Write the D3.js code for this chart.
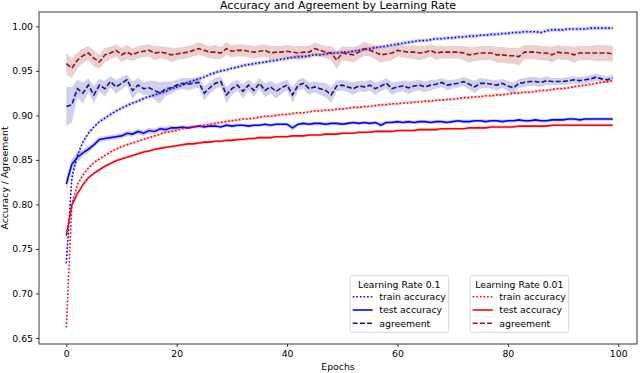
<!DOCTYPE html>
<html lang="en">
<head>
<meta charset="utf-8">
<script src="https://d3js.org/d3.v7.min.js"></script>
<style>
  body { margin: 0; background: #fff; }
  text { font-family: "DejaVu Sans", sans-serif; fill: #000; }
</style>
</head>
<body>
<script>
// epochs on the x axis
const epochs = d3.range(0, 100);

// Learning rate 0.1
const trainAcc01 = [0.734,0.830,0.855,0.870,0.880,0.887,0.893,0.897,0.901,0.905,
  0.908,0.911,0.914,0.916,0.919,0.921,0.923,0.925,0.927,0.930,
  0.932,0.934,0.937,0.939,0.941,0.943,0.946,0.948,0.950,0.951,
  0.953,0.954,0.956,0.957,0.958,0.959,0.960,0.961,0.962,0.963,
  0.964,0.965,0.966,0.966,0.967,0.968,0.968,0.969,0.970,0.970,
  0.971,0.971,0.972,0.973,0.974,0.975,0.976,0.977,0.978,0.979,
  0.980,0.981,0.982,0.983,0.984,0.984,0.985,0.986,0.986,0.987,
  0.987,0.988,0.988,0.989,0.989,0.990,0.990,0.991,0.991,0.992,
  0.992,0.993,0.993,0.994,0.994,0.994,0.993,0.995,0.996,0.996,
  0.996,0.997,0.997,0.997,0.997,0.998,0.998,0.998,0.998,0.998];
const testAcc01 = [0.823,0.845,0.853,0.858,0.862,0.867,0.873,0.874,0.875,0.876,
  0.877,0.880,0.879,0.882,0.880,0.883,0.882,0.885,0.884,0.886,
  0.886,0.887,0.886,0.887,0.888,0.887,0.888,0.888,0.887,0.889,
  0.888,0.889,0.889,0.888,0.889,0.889,0.890,0.889,0.890,0.890,
  0.890,0.886,0.890,0.891,0.890,0.891,0.891,0.890,0.891,0.891,
  0.890,0.891,0.892,0.891,0.892,0.891,0.892,0.889,0.892,0.892,
  0.893,0.892,0.893,0.892,0.893,0.893,0.892,0.893,0.893,0.892,
  0.893,0.894,0.893,0.893,0.894,0.894,0.893,0.894,0.894,0.893,
  0.894,0.894,0.895,0.894,0.894,0.895,0.894,0.894,0.895,0.895,
  0.895,0.896,0.896,0.895,0.896,0.896,0.896,0.896,0.896,0.896];
const agree01 = [0.910,0.912,0.930,0.925,0.934,0.923,0.934,0.930,0.938,0.932,
  0.936,0.940,0.928,0.934,0.930,0.931,0.928,0.925,0.930,0.931,
  0.934,0.936,0.935,0.936,0.937,0.925,0.931,0.936,0.938,0.923,
  0.930,0.934,0.927,0.934,0.928,0.936,0.928,0.932,0.927,0.931,
  0.934,0.923,0.934,0.936,0.930,0.932,0.930,0.928,0.923,0.933,
  0.934,0.932,0.930,0.933,0.932,0.934,0.930,0.933,0.936,0.930,
  0.932,0.933,0.931,0.933,0.934,0.932,0.934,0.935,0.937,0.934,
  0.935,0.936,0.938,0.935,0.932,0.936,0.936,0.935,0.934,0.936,
  0.933,0.931,0.936,0.937,0.938,0.938,0.937,0.939,0.938,0.938,
  0.938,0.939,0.940,0.939,0.940,0.941,0.943,0.941,0.940,0.942];

// Learning rate 0.01
const trainAcc001 = [0.662,0.800,0.822,0.833,0.841,0.847,0.851,0.855,0.859,0.862,
  0.865,0.867,0.869,0.871,0.873,0.875,0.877,0.879,0.881,0.882,
  0.883,0.885,0.886,0.887,0.888,0.889,0.890,0.891,0.892,0.893,
  0.894,0.895,0.896,0.896,0.897,0.898,0.899,0.899,0.900,0.901,
  0.901,0.902,0.903,0.903,0.904,0.905,0.905,0.906,0.906,0.907,
  0.907,0.908,0.909,0.909,0.910,0.910,0.911,0.912,0.912,0.913,
  0.913,0.914,0.914,0.915,0.915,0.916,0.916,0.917,0.917,0.918,
  0.918,0.919,0.920,0.920,0.921,0.921,0.922,0.922,0.923,0.923,
  0.924,0.925,0.925,0.926,0.926,0.927,0.928,0.928,0.929,0.930,
  0.930,0.931,0.932,0.933,0.934,0.935,0.936,0.937,0.938,0.939];
const testAcc001 = [0.765,0.799,0.812,0.822,0.830,0.835,0.839,0.843,0.846,0.849,
  0.851,0.853,0.855,0.857,0.859,0.860,0.862,0.863,0.864,0.865,
  0.866,0.867,0.868,0.868,0.869,0.870,0.870,0.871,0.871,0.872,
  0.872,0.873,0.873,0.874,0.874,0.875,0.875,0.875,0.876,0.876,
  0.876,0.877,0.877,0.877,0.878,0.878,0.878,0.879,0.879,0.879,
  0.880,0.880,0.880,0.881,0.881,0.881,0.882,0.882,0.882,0.882,
  0.883,0.883,0.883,0.883,0.884,0.884,0.884,0.884,0.885,0.885,
  0.885,0.885,0.885,0.886,0.886,0.886,0.886,0.887,0.887,0.887,
  0.887,0.887,0.888,0.888,0.888,0.888,0.888,0.888,0.889,0.889,
  0.889,0.889,0.889,0.889,0.889,0.889,0.889,0.889,0.889,0.889];
const agree001 = [0.958,0.953,0.962,0.967,0.970,0.964,0.960,0.968,0.970,0.973,
  0.968,0.971,0.968,0.971,0.972,0.973,0.970,0.971,0.970,0.968,
  0.969,0.970,0.971,0.973,0.975,0.973,0.971,0.971,0.970,0.975,
  0.972,0.973,0.973,0.972,0.971,0.972,0.973,0.970,0.971,0.971,
  0.972,0.971,0.970,0.971,0.971,0.975,0.973,0.971,0.970,0.962,
  0.970,0.969,0.968,0.971,0.975,0.973,0.971,0.968,0.969,0.970,
  0.973,0.972,0.971,0.971,0.970,0.971,0.973,0.970,0.971,0.971,
  0.971,0.971,0.970,0.968,0.969,0.970,0.970,0.970,0.968,0.968,
  0.967,0.967,0.966,0.971,0.971,0.971,0.970,0.970,0.968,0.971,
  0.970,0.970,0.968,0.970,0.970,0.970,0.970,0.970,0.970,0.969];

// spread (half width) of the shaded bands
const trainSpread01 = [0.010,0.005,0.003,0.002];
const trainSpread001 = [0.004,0.002,0.0015];
const testSpread001 = [0.004,0.002,0.0015];
const testSpread01 = [0.008,0.006,0.005,0.004,0.004,0.003,0.003,0.003,0.003,0.003,
  0.003,0.003,0.003,0.003,0.003,0.003,0.003,0.003,0.003,0.003,
  0.002,0.002,0.002,0.002,0.002,0.002,0.002,0.002,0.002,0.002,
  0.002,0.002,0.002,0.002,0.002,0.002,0.002,0.002,0.002,0.002,
  0.002,0.003,0.002,0.002,0.002,0.002,0.002,0.002,0.002,0.002,
  0.002,0.002,0.002,0.002,0.002,0.002,0.002,0.003,0.002,0.002,
  0.002,0.002,0.002,0.002,0.002,0.002,0.002,0.002,0.002,0.002,
  0.002,0.002,0.002,0.002,0.002,0.002,0.002,0.002,0.002,0.002,
  0.002,0.002,0.002,0.002,0.002,0.002,0.002,0.002,0.002,0.002,
  0.002,0.002,0.002,0.002,0.002,0.002,0.002,0.002,0.002,0.002];
const agreeSpread01 = [0.022,0.020,0.010,0.012,0.008,0.010,0.007,0.009,0.006,0.008,
  0.007,0.006,0.010,0.008,0.007,0.008,0.011,0.012,0.008,0.007,
  0.006,0.006,0.007,0.006,0.006,0.008,0.007,0.006,0.006,0.009,
  0.007,0.006,0.008,0.006,0.007,0.006,0.008,0.007,0.008,0.007,
  0.006,0.009,0.006,0.006,0.007,0.006,0.007,0.008,0.009,0.006,
  0.006,0.006,0.007,0.006,0.006,0.006,0.007,0.006,0.006,0.007,
  0.006,0.006,0.007,0.006,0.006,0.006,0.006,0.005,0.005,0.006,
  0.005,0.005,0.005,0.006,0.007,0.006,0.005,0.005,0.006,0.005,
  0.006,0.006,0.005,0.005,0.005,0.005,0.005,0.005,0.004,0.004,
  0.004,0.004,0.004,0.004,0.004,0.004,0.004,0.004,0.004,0.004];
const agreeSpread001 = [0.012,0.011,0.009,0.008,0.008,0.009,0.008,0.008,0.007,0.007,
  0.008,0.008,0.007,0.007,0.007,0.007,0.008,0.007,0.007,0.008,
  0.007,0.007,0.007,0.007,0.007,0.007,0.007,0.008,0.007,0.007,
  0.007,0.007,0.007,0.007,0.007,0.007,0.007,0.008,0.007,0.007,
  0.007,0.007,0.008,0.007,0.007,0.007,0.007,0.007,0.008,0.010,
  0.008,0.008,0.009,0.008,0.008,0.007,0.008,0.009,0.008,0.008,
  0.007,0.007,0.007,0.008,0.008,0.007,0.007,0.008,0.007,0.007,
  0.007,0.007,0.008,0.009,0.008,0.008,0.008,0.008,0.009,0.009,
  0.009,0.009,0.010,0.008,0.008,0.008,0.008,0.008,0.009,0.008,
  0.008,0.008,0.009,0.008,0.008,0.008,0.009,0.009,0.009,0.009];

// legend texts
const legendTitles = ["Learning Rate 0.1", "Learning Rate 0.01"];
const legendLabels = ["train accuracy", "test accuracy", "agreement"];

const dotted = "1.6,2.0";
const dashed = "5,2.2";

const series = [
  { values: trainAcc01, spread: trainSpread01, color: "#0000ff", dash: dotted },
  { values: testAcc01, spread: testSpread01, color: "#0000ff", dash: null },
  { values: agree01, spread: agreeSpread01, color: "#12129c", dash: dashed },
  { values: trainAcc001, spread: trainSpread001, color: "#ff0000", dash: dotted },
  { values: testAcc001, spread: testSpread001, color: "#ff0000", dash: null },
  { values: agree001, spread: agreeSpread001, color: "#9c1212", dash: dashed }
];

const width = 640, height = 373;
const plot = { left: 39, right: 637, top: 12, bottom: 344 };
const fontSize = "9.3px";

const svg = d3.select("body")
  .append("svg")
  .attr("width", width)
  .attr("height", height);

const x = d3.scaleLinear().domain([-4.95, 103.4]).range([plot.left, plot.right]);
const y = d3.scaleLinear().domain([0.6433, 1.0161]).range([plot.bottom, plot.top]);

// spread for epoch i (short arrays keep their last value)
function spreadAt(arr, i) {
  return arr[Math.min(i, arr.length - 1)];
}

const lw = 1.6;

series.forEach(s => {
  const rows = epochs.map(i => ({ e: i, v: s.values[i], d: spreadAt(s.spread, i) }));

  svg.append("path")
    .datum(rows)
    .attr("fill", s.color)
    .attr("fill-opacity", 0.2)
    .attr("d", d3.area().x(d => x(d.e)).y0(d => y(d.v - d.d)).y1(d => y(d.v + d.d)));

  svg.append("path")
    .datum(rows)
    .attr("fill", "none")
    .attr("stroke", s.color)
    .attr("stroke-width", lw)
    .attr("stroke-dasharray", s.dash)
    .attr("d", d3.line().x(d => x(d.e)).y(d => y(d.v)));
});

// axes
const xAxis = svg.append("g")
  .attr("transform", "translate(0," + plot.bottom + ")")
  .call(d3.axisBottom(x).tickValues([0, 20, 40, 60, 80, 100]).tickSize(3).tickPadding(3).tickSizeOuter(0));
const yAxis = svg.append("g")
  .attr("transform", "translate(" + plot.left + ",0)")
  .call(d3.axisLeft(y).tickValues(d3.range(0.65, 1.001, 0.05)).tickFormat(d3.format(".2f")).tickSize(3).tickPadding(3).tickSizeOuter(0));

[xAxis, yAxis].forEach(g => {
  g.select(".domain").remove();
  g.selectAll("line").attr("stroke", "#000").attr("stroke-width", 0.8);
  g.selectAll("text").attr("font-size", fontSize).attr("font-family", "DejaVu Sans").attr("fill", "#000");
});

// frame
svg.append("rect")
  .attr("x", plot.left)
  .attr("y", plot.top)
  .attr("width", plot.right - plot.left)
  .attr("height", plot.bottom - plot.top)
  .attr("fill", "none")
  .attr("stroke", "#222")
  .attr("stroke-width", 0.9);

// title and axis labels
svg.append("text")
  .attr("x", (plot.left + plot.right) / 2)
  .attr("y", 8.5)
  .attr("text-anchor", "middle")
  .style("font-size", "11px")
  .text("Accuracy and Agreement by Learning Rate");

svg.append("text")
  .attr("x", (plot.left + plot.right) / 2)
  .attr("y", 369.5)
  .attr("text-anchor", "middle")
  .style("font-size", fontSize)
  .text("Epochs");

svg.append("text")
  .attr("transform", "translate(8," + (plot.top + plot.bottom) / 2 + ") rotate(-90)")
  .attr("text-anchor", "middle")
  .style("font-size", fontSize)
  .text("Accuracy / Agreement");

// legends
const legendX = [350, 470];
legendTitles.forEach((title, k) => {
  const g = svg.append("g").attr("transform", "translate(" + legendX[k] + ",275.7)");
  g.append("rect")
    .attr("width", 98.7)
    .attr("height", 56.6)
    .attr("rx", 2)
    .attr("fill", "#fff")
    .attr("fill-opacity", 0.8)
    .attr("stroke", "#cccccc")
    .attr("stroke-width", 0.8);
  g.append("text")
    .attr("x", 49.3)
    .attr("y", 12.8)
    .attr("text-anchor", "middle")
    .style("font-size", fontSize)
    .text(title);
  legendLabels.forEach((label, j) => {
    const s = series[k * 3 + j];
    const yy = 21 + j * 13.3;
    g.append("line")
      .attr("x1", 2.7).attr("x2", 22.7)
      .attr("y1", yy).attr("y2", yy)
      .attr("stroke", s.color)
      .attr("stroke-width", lw)
      .attr("stroke-dasharray", s.dash);
    g.append("text")
      .attr("x", 29.3)
      .attr("y", yy + 3.3)
      .style("font-size", fontSize)
      .text(label);
  });
});
</script>
</body>
</html>
